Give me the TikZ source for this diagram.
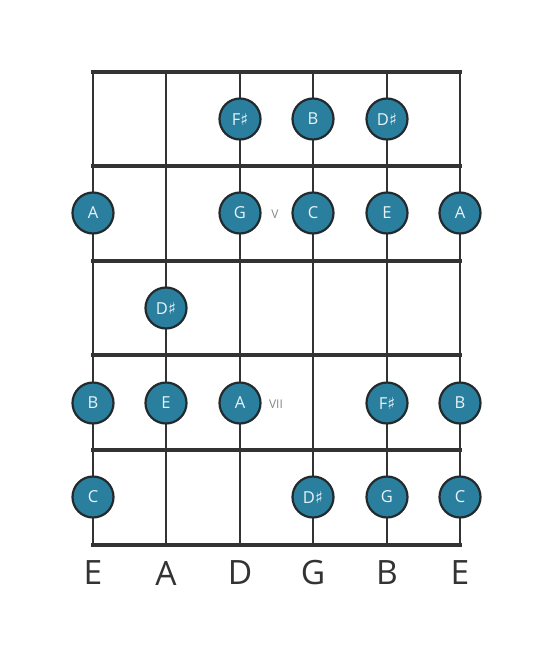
\documentclass[tikz,border=0pt]{standalone}
\usepackage{fontspec}
\setmainfont{Open Sans}
\newfontfamily\symfont{DejaVu Sans}
\newcommand{\shp}{{\symfont\char"266F}}
\definecolor{linec}{HTML}{333333}
\definecolor{dotc}{HTML}{2A7F9E}
\definecolor{dotline}{HTML}{222A2E}
\definecolor{dottext}{HTML}{EAF4F7}
\definecolor{fretlab}{HTML}{888888}
\begin{document}
\begin{tikzpicture}[x=1pt,y=-1pt,
  stringline/.style={draw=linec,line width=2.6pt},
  fretline/.style={draw=linec,line width=4pt},
  note/.style={circle,draw=dotline,line width=2.2pt,fill=dotc,minimum size=41pt,inner sep=0pt,text=dottext,font=\fontsize{16.5}{16.5}\selectfont},
  fretnum/.style={text=fretlab,font=\fontsize{12}{12}\selectfont},
  strname/.style={text=linec,font=\fontsize{33.5}{33.5}\selectfont}]
\useasboundingbox (0,0) rectangle (553,656);
\fill[white] (0,0) rectangle (553,656);
% strings
\foreach \i/\x in {1/93,2/166,3/240,4/313,5/387,6/460}{
  \coordinate (s\i t) at (\x,72);
  \coordinate (s\i b) at (\x,545);
  \draw[stringline] (s\i t) -- (s\i b);
}
% frets
\foreach \j/\y in {0/72,1/166,2/261,3/355,4/450,5/545}{
  \coordinate (f\j l) at (91,\y);
  \coordinate (f\j r) at (462,\y);
}
\draw[draw=linec,line width=4.5pt] (f0l) -- (f0r);
\foreach \j in {1,...,5}{\draw[fretline] (f\j l) -- (f\j r);}
% notes
\node[note] (n1) at (240,119) {F\shp};
\node[note] (n2) at (313,119) {B};
\node[note] (n3) at (387,119) {D\shp};
\node[note] (n4) at (93,213) {A};
\node[note] (n5) at (240,213) {G};
\node[note] (n6) at (313,213) {C};
\node[note] (n7) at (387,213) {E};
\node[note] (n8) at (460,213) {A};
\node[note] (n9) at (166,308) {D\shp};
\node[note] (n10) at (93,403) {B};
\node[note] (n11) at (166,403) {E};
\node[note] (n12) at (240,403) {A};
\node[note] (n13) at (387,403) {F\shp};
\node[note] (n14) at (460,403) {B};
\node[note] (n15) at (93,497) {C};
\node[note] (n16) at (313,497) {D\shp};
\node[note] (n17) at (387,497) {G};
\node[note] (n18) at (460,497) {C};
% fret numbers
\node[fretnum] (v5) at (275,214) {V};
\node[fretnum] (v7) at (276,404) {VII};
% string names
\node[strname] (l1) at (93,573) {E};
\node[strname] (l2) at (166,573) {A};
\node[strname] (l3) at (240,573) {D};
\node[strname] (l4) at (313,573) {G};
\node[strname] (l5) at (387,573) {B};
\node[strname] (l6) at (460,573) {E};
\end{tikzpicture}
\end{document}
